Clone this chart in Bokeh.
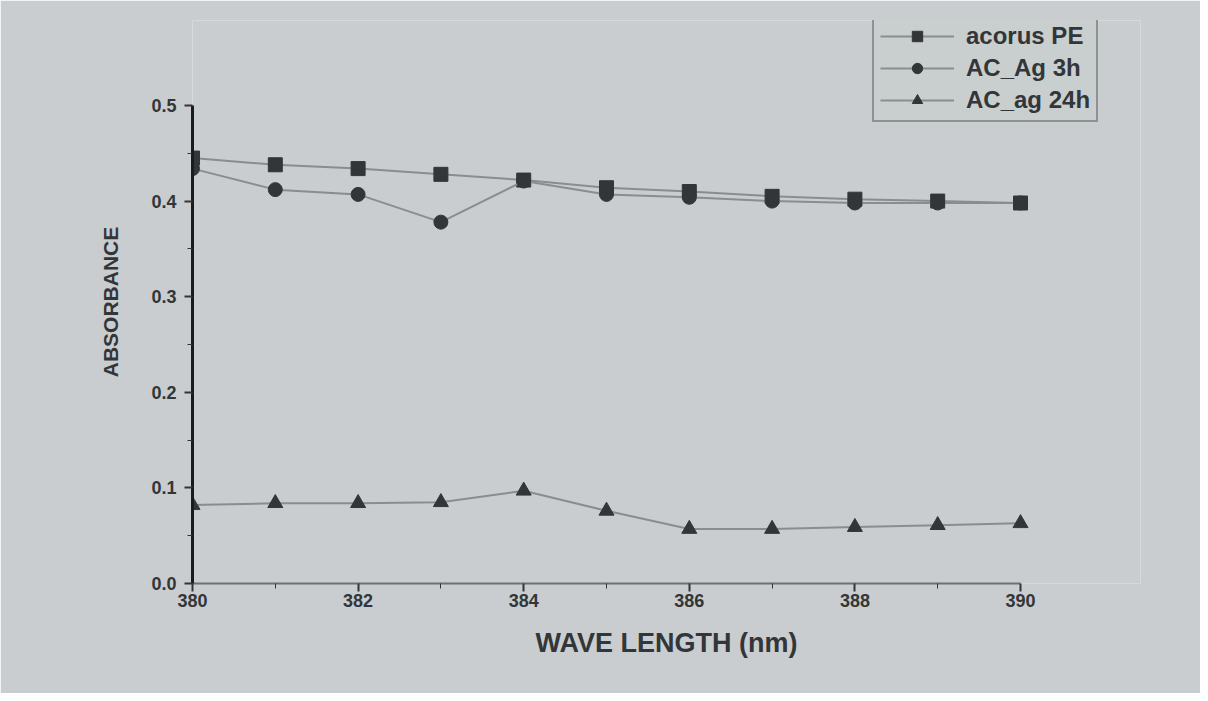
from bokeh.plotting import figure
from bokeh.models import Legend, LegendItem, Range1d, FixedTicker, ColumnDataSource, CustomJSTickFormatter
from bokeh.embed import file_html
from bokeh.resources import INLINE

wavelength = [380, 381, 382, 383, 384, 385, 386, 387, 388, 389, 390]
acorus_pe = [0.445, 0.438, 0.434, 0.428, 0.422, 0.414, 0.410, 0.405, 0.402, 0.400, 0.398]
ac_ag_3h = [0.434, 0.412, 0.407, 0.378, 0.421, 0.407, 0.404, 0.400, 0.398, 0.398, 0.398]
ac_ag_24h = [0.082, 0.084, 0.084, 0.085, 0.097, 0.076, 0.057, 0.057, 0.059, 0.061, 0.063]

x_ticks = [380, 382, 384, 386, 388, 390]
x_minor = [381, 383, 385, 387, 389]
y_ticks = [0.0, 0.1, 0.2, 0.3, 0.4, 0.5]
y_minor = [0.05, 0.15, 0.25, 0.35, 0.45]

BG = "#c9cdcf"
INK = "#333638"
LINE = "#8a8d8f"
FONT = "Liberation Sans"

# frame: left 192, right 1140, top 20, bottom 583 ; data 380-390 spans 828 px, 0-0.5 spans 478 px
p = figure(width=1200, height=693, output_backend="svg", toolbar_location=None,
           x_range=Range1d(380, 380 + 948 * 10 / 828), y_range=Range1d(0, 0.5 * 563 / 478),
           min_border_left=192, min_border_right=60, min_border_top=20, min_border_bottom=110)
p.background_fill_color = BG
p.border_fill_color = BG
p.outline_line_color = None
p.grid.visible = False

for ax in (p.xaxis[0], p.yaxis[0]):
    ax.major_label_text_font = FONT
    ax.major_label_text_font_style = "bold"
    ax.major_label_text_font_size = "18px"
    ax.major_label_text_color = INK
    ax.axis_label_text_font = FONT
    ax.axis_label_text_font_style = "bold"
    ax.axis_label_text_color = INK
    ax.major_tick_in = 0
    ax.minor_tick_in = 0
    ax.major_tick_out = 8
    ax.minor_tick_out = 5
    ax.major_tick_line_color = INK
    ax.minor_tick_line_color = INK
    ax.major_tick_line_width = 2

p.xaxis.ticker = FixedTicker(ticks=x_ticks, minor_ticks=x_minor)
p.yaxis.ticker = FixedTicker(ticks=y_ticks, minor_ticks=y_minor)
p.yaxis.formatter = CustomJSTickFormatter(code="return tick.toFixed(1);")
p.xaxis.bounds = (380, 390)
p.yaxis.bounds = (0, 0.5)
p.xaxis.axis_label = "WAVE LENGTH (nm)"
p.yaxis.axis_label = "ABSORBANCE"
p.xaxis.axis_label_text_font_size = "27px"
p.yaxis.axis_label_text_font_size = "21px"
p.xaxis.axis_line_color = "#6e7173"
p.xaxis.axis_line_width = 2
p.yaxis.axis_line_color = "#1a1b1c"
p.yaxis.axis_line_width = 3
p.xaxis.major_label_standoff = 2
p.yaxis.major_label_standoff = 8
p.xaxis.axis_label_standoff = 18
p.yaxis.axis_label_standoff = 26

src = ColumnDataSource(dict(x=wavelength, a=acorus_pe, b=ac_ag_3h, c=ac_ag_24h))

l1 = p.line("x", "a", source=src, line_color=LINE, line_width=2)
m1 = p.scatter("x", "a", source=src, marker="square", size=14, fill_color=INK, line_color=INK)
l2 = p.line("x", "b", source=src, line_color=LINE, line_width=2)
m2 = p.scatter("x", "b", source=src, marker="circle", size=14, fill_color=INK, line_color=INK)
l3 = p.line("x", "c", source=src, line_color=LINE, line_width=2)
m3 = p.scatter("x", "c", source=src, marker="triangle", size=15, fill_color=INK, line_color=INK)

legend = Legend(items=[
    LegendItem(label="acorus PE", renderers=[l1, m1]),
    LegendItem(label="AC_Ag 3h", renderers=[l2, m2]),
    LegendItem(label="AC_ag 24h", renderers=[l3, m3]),
], location=(680, 461))
legend.background_fill_color = BG
legend.border_line_color = "#555"
legend.border_line_width = 2
legend.label_text_font = FONT
legend.label_text_font_style = "bold"
legend.label_text_font_size = "24px"
legend.label_text_color = INK
legend.glyph_width = 74
legend.glyph_height = 26
legend.label_standoff = 12
legend.label_height = 26
legend.spacing = 4
legend.padding = 6
legend.margin = 0
p.add_layout(legend, "center")

open("out.html", "w").write(file_html(p, INLINE))
